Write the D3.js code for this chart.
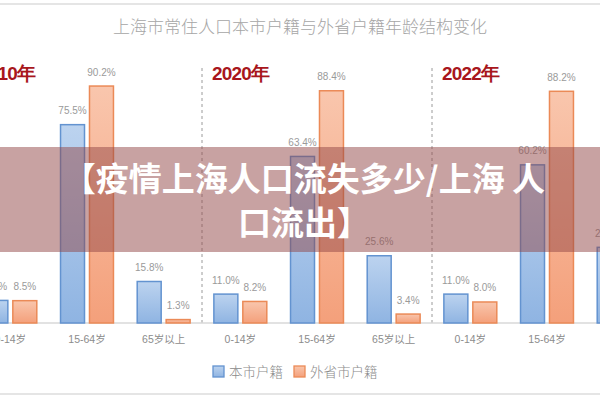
<!DOCTYPE html>
<html>
<head>
<meta charset="utf-8">
<script src="https://cdn.jsdelivr.net/npm/d3@7"></script>
<style>
  body { margin: 0; background: #fff; }
  svg { display: block; }
</style>
</head>
<body>
<div id="chart"></div>
<script>
// chart data
const years = ["2010年", "2020年", "2022年"];
const ages = ["0-14岁", "15-64岁", "65岁以上"];
const seriesNames = ["本市户籍", "外省市户籍"];
const localValues = [8.6, 75.5, 15.8, 11.0, 63.4, 25.6, 11.0, 60.2, 28.8];   // 本市户籍
const outsideValues = [8.5, 90.2, 1.3, 8.2, 88.4, 3.4, 8.0, 88.2, 3.6];  // 外省市户籍
const title = "上海市常住人口本市户籍与外省户籍年龄结构变化";
const bannerLines = ["【疫情上海人口流失多少/上海 人", "口流出】"];

(function draw() {
  const width = 600, height = 400;
  const baseY = 323;

  const svg = d3.select("#chart")
    .append("svg")
    .attr("width", width)
    .attr("height", height);

  // gradients for the bars
  const defs = svg.append("defs");
  const grads = [
    { id: "gBlue", top: "#bcd3ef", bottom: "#8fb4e2" },
    { id: "gOrange", top: "#f9c6ad", bottom: "#f4a07b" }
  ];
  grads.forEach(g => {
    const lg = defs.append("linearGradient").attr("id", g.id)
      .attr("x1", 0).attr("y1", 0).attr("x2", 0).attr("y2", 1);
    lg.append("stop").attr("offset", "0%").attr("stop-color", g.top);
    lg.append("stop").attr("offset", "100%").attr("stop-color", g.bottom);
  });

  // build rows: one per (year, age group)
  const rows = [];
  years.forEach((yr, i) => {
    ages.forEach((ag, j) => {
      const k = i * ages.length + j;
      rows.push({ key: yr + "|" + ag, year: yr, age: ag,
        values: [localValues[k], outsideValues[k]] });
    });
  });

  const x0 = d3.scaleBand()
    .domain(rows.map(d => d.key))
    .range([-28, 662]);

  const x1 = d3.scaleBand()
    .domain(seriesNames)
    .range([0, x0.bandwidth()])
    .paddingInner(0.172)
    .paddingOuter(0.41);

  const y = d3.scaleLinear()
    .domain([0, 100])
    .range([baseY, baseY - 262.7]);

  const fill = d3.scaleOrdinal().domain(seriesNames).range(["url(#gBlue)", "url(#gOrange)"]);
  const stroke = d3.scaleOrdinal().domain(seriesNames).range(["#6393d0", "#eb8a57"]);

  // top and bottom frame lines
  svg.append("line").attr("x1", 0).attr("x2", width).attr("y1", 4).attr("y2", 4)
    .attr("stroke", "#dcdcdc").attr("stroke-width", 1.5);
  svg.append("line").attr("x1", 0).attr("x2", width).attr("y1", 394).attr("y2", 394)
    .attr("stroke", "#dcdcdc").attr("stroke-width", 1.5);

  // title
  svg.append("text")
    .attr("x", 300).attr("y", 33)
    .attr("text-anchor", "middle")
    .style("font-family", "'Noto Sans CJK SC', sans-serif")
    .style("font-size", "17px")
    .style("font-weight", 300)
    .style("fill", "#a6a6a6")
    .text(title);

  // dashed panel separators and year labels
  years.forEach((yr, i) => {
    const xs = x0(yr + "|" + ages[0]);
    svg.append("line")
      .attr("x1", xs).attr("x2", xs)
      .attr("y1", 68).attr("y2", baseY)
      .attr("stroke", "#9a9a9a")
      .attr("stroke-width", 1)
      .attr("stroke-dasharray", "3,3");
    svg.append("text")
      .attr("x", xs + (i === 0 ? 6 : 10)).attr("y", 80)
      .style("font-family", "'Liberation Sans', Arial, sans-serif")
      .style("font-size", "19px")
      .style("font-weight", "bold")
      .style("letter-spacing", "-0.8px")
      .style("fill", "#a8161c")
      .text(yr);
  });

  // baseline
  svg.append("line")
    .attr("x1", 0).attr("x2", width)
    .attr("y1", baseY).attr("y2", baseY)
    .attr("stroke", "#d9d9d9").attr("stroke-width", 1.5);

  // bars
  const groups = svg.append("g")
    .selectAll("g")
    .data(rows)
    .join("g")
    .attr("transform", d => `translate(${x0(d.key)},0)`);

  const cells = groups.selectAll("g")
    .data(d => d.values.map((v, i) => ({ name: seriesNames[i], value: v })))
    .join("g");

  cells.append("rect")
    .attr("x", d => x1(d.name))
    .attr("y", d => y(d.value))
    .attr("width", x1.bandwidth())
    .attr("height", d => baseY - y(d.value))
    .attr("fill", d => fill(d.name))
    .attr("stroke", d => stroke(d.name))
    .attr("stroke-width", 1.5);

  cells.append("text")
    .attr("x", d => x1(d.name) + x1.bandwidth() / 2)
    .attr("y", d => y(d.value) - 10.5)
    .attr("text-anchor", "middle")
    .style("font-family", "'Liberation Sans', Arial, sans-serif")
    .style("font-size", "10px")
    .style("fill", "#9a9a9a")
    .text(d => d.value.toFixed(1) + "%");

  // x axis category labels
  groups.append("text")
    .attr("x", x0.bandwidth() / 2)
    .attr("y", 343)
    .attr("text-anchor", "middle")
    .style("font-family", "'Liberation Sans', 'Noto Sans CJK SC', sans-serif")
    .style("font-size", "10.5px")
    .style("fill", "#8c8c8c")
    .text(d => d.age);

  // legend
  const legend = svg.append("g").attr("transform", "translate(213,366)");
  const legendX = [0, 81];
  seriesNames.forEach((name, i) => {
    const g = legend.append("g").attr("transform", `translate(${legendX[i]},0)`);
    g.append("rect")
      .attr("width", 11).attr("height", 11)
      .attr("fill", fill(name))
      .attr("stroke", stroke(name))
      .attr("stroke-width", 1.3);
    g.append("text")
      .attr("x", 16).attr("y", 11)
      .style("font-family", "'Noto Sans CJK SC', sans-serif")
      .style("font-size", "13.5px")
      .style("font-weight", 300)
      .style("fill", "#8a8a8a")
      .text(name);
  });

  // overlay banner
  svg.append("rect")
    .attr("x", 0).attr("y", 147)
    .attr("width", width).attr("height", 105)
    .attr("fill", "rgb(146,70,70)")
    .attr("fill-opacity", 0.5);

  svg.append("g").selectAll("text")
    .data(bannerLines)
    .join("text")
    .attr("x", 304)
    .attr("y", (d, i) => 191 + i * 44)
    .attr("text-anchor", "middle")
    .style("font-family", "'Noto Sans CJK SC', sans-serif")
    .style("font-size", "33px")
    .style("font-weight", "bold")
    .style("fill", "#ffffff")
    .text(d => d);
})();
</script>
</body>
</html>
